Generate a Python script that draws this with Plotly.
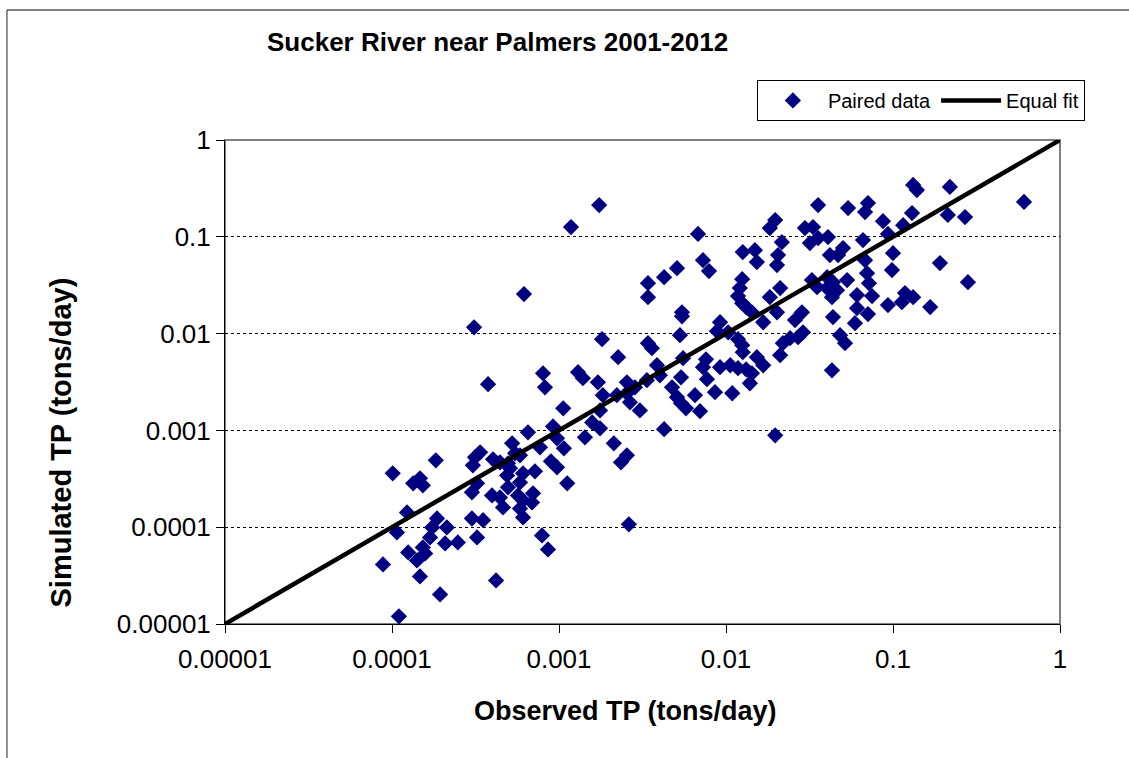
import plotly.graph_objects as go

# Observed vs simulated total phosphorus (tons/day), paired
observed_tp = [
    8.83e-5, 1.10e-4, 1.07e-4, 1.23e-4, 1.01e-4, 1.34e-4, 1.47e-4, 1.53e-4, 1.83e-4, 1.25e-4,
    1.41e-4, 1.58e-4, 1.53e-4, 1.47e-4, 1.94e-4, 1.86e-4, 1.74e-4, 2.13e-4, 1.69e-4, 2.08e-4,
    2.48e-4, 3.01e-4, 3.51e-4, 3.23e-4, 3.37e-4, 3.14e-4, 3.05e-4, 4.03e-4, 4.43e-4, 4.95e-4,
    5.09e-4, 5.24e-4, 5.46e-4, 5.84e-4, 3.23e-4, 3.01e-4, 4.89e-4, 4.95e-4, 3.97e-4, 4.43e-4,
    4.62e-4, 5.68e-4, 6.09e-4, 6.99e-4, 6.89e-4, 5.84e-4, 6.09e-4, 6.09e-4, 5.84e-4, 4.20e-4,
    7.91e-4, 8.59e-4, 1.12e-3, 6.52e-4, 9.21e-4, 9.73e-4, 1.07e-3, 1.43e-3, 1.58e-3, 1.76e-3,
    2.13e-3, 2.35e-3, 7.69e-4, 8.95e-4, 9.73e-4, 7.18e-4, 2.62e-3, 3.10e-4, 3.76e-4, 6.17e-4,
    1.74e-3, 1.18e-3, 5.09e-3, 4.26e-3, 3.41e-3, 3.41e-3, 1.81e-3, 2.26e-3, 3.41e-3, 3.60e-3,
    8.02e-4, 8.24e-4, 1.30e-3, 1.39e-3, 1.71e-3, 2.55e-3, 2.85e-3, 3.36e-3, 3.86e-3, 4.02e-3,
    4.75e-3, 1.83e-3, 2.22e-3, 2.55e-3, 2.66e-3, 3.05e-3, 1.06e-3, 1.76e-3, 4.26e-3, 2.55e-3,
    6.80e-3, 7.28e-3, 7.91e-3, 0.0126, 0.0149, 0.0153, 0.0125, 0.0121, 0.0118, 0.0125,
    0.0132, 0.0143, 5.45e-3, 5.45e-3, 5.30e-3, 9.21e-3, 8.83e-3, 0.0103, 0.0118, 0.0125,
    0.0126, 5.53e-3, 7.59e-3, 7.28e-3, 7.69e-3, 9.21e-3, 0.0106, 0.0118, 0.0132, 0.0153,
    0.0143, 0.0139, 5.38e-3, 5.09e-3, 5.38e-3, 5.76e-3, 6.52e-3, 6.99e-3, 8.59e-3, 0.0109,
    0.0356, 0.0538, 0.0197, 0.0183, 0.0297, 0.0332, 0.0318, 0.0356, 0.0408, 0.0216,
    0.0205, 0.0202, 0.0419, 0.0502, 0.0469, 0.0327, 0.0351, 0.0403, 0.0437, 0.0403,
    0.0462, 0.0431, 0.0531, 0.0211, 0.0183, 0.0202, 0.0167, 0.0285, 0.0259, 0.0437,
    0.0289, 0.0270, 0.0242, 0.0219, 0.0211, 0.0482, 0.0516, 0.0167, 0.0431, 0.0197,
    0.0708, 0.0680, 0.132, 0.139, 0.219, 0.609, 0.130, 0.213, 0.270, 0.0871,
    0.115, 0.0933, 0.0661, 0.100, 0.0986, 0.0680, 0.191, 0.281, 0.0699, 0.0718,
    0.0749, 0.118, 0.132, 0.113, 0.0933, 0.167, 0.0708, 0.0609, 0.0609, 0.0592,
]
simulated_tp = [
    4.12e-5, 1.20e-5, 8.83e-5, 1.42e-4, 3.60e-4, 2.84e-4, 3.20e-4, 2.71e-4, 4.91e-4, 5.48e-5,
    4.54e-5, 5.36e-5, 6.18e-5, 3.10e-5, 2.02e-5, 1.23e-4, 9.95e-5, 9.95e-5, 7.85e-5, 6.80e-5,
    6.97e-5, 1.23e-4, 1.18e-4, 7.85e-5, 5.94e-4, 5.27e-4, 4.36e-4, 5.02e-4, 4.68e-4, 4.57e-4,
    4.06e-4, 7.36e-4, 5.80e-4, 5.53e-4, 2.84e-4, 2.29e-4, 3.43e-4, 2.58e-4, 2.13e-4, 2.03e-4,
    1.60e-4, 2.13e-4, 1.89e-4, 2.24e-4, 1.80e-4, 1.56e-4, 1.26e-4, 3.60e-4, 2.90e-4, 2.82e-5,
    8.22e-5, 5.89e-5, 2.84e-4, 9.55e-4, 1.10e-3, 8.28e-4, 6.53e-4, 8.49e-4, 1.21e-3, 1.05e-3,
    7.36e-4, 4.68e-4, 6.68e-4, 4.79e-4, 4.15e-4, 3.78e-4, 1.07e-4, 1.16e-2, 3.00e-3, 2.56e-2,
    0.213, 0.126, 0.0474, 0.0383, 0.0332, 0.0238, 8.75e-3, 5.70e-3, 7.96e-3, 7.06e-3,
    3.89e-3, 2.79e-3, 3.99e-3, 3.46e-3, 3.14e-3, 3.14e-3, 2.79e-3, 3.30e-3, 4.71e-3, 3.71e-3,
    2.79e-3, 2.31e-3, 2.31e-3, 2.42e-3, 1.95e-3, 1.61e-3, 1.69e-3, 1.61e-3, 1.03e-3, 5.53e-4,
    0.107, 0.0574, 0.0442, 0.0695, 0.0728, 0.0548, 0.0365, 0.0295, 0.0244, 0.0206,
    0.0188, 0.0166, 0.0166, 0.0151, 9.62e-3, 0.0131, 0.0106, 0.0103, 8.75e-3, 7.59e-3,
    6.42e-3, 5.57e-3, 5.43e-3, 4.50e-3, 3.38e-3, 4.50e-3, 4.71e-3, 4.39e-3, 4.28e-3, 5.70e-3,
    3.89e-3, 3.07e-3, 3.54e-3, 2.20e-3, 1.91e-3, 1.69e-3, 2.31e-3, 1.58e-3, 2.48e-3, 2.42e-3,
    0.213, 0.198, 0.149, 0.123, 0.123, 0.126, 0.0861, 0.0970, 0.0993, 0.0881,
    0.0647, 0.0510, 0.0647, 0.0764, 0.0647, 0.0357, 0.0302, 0.0383, 0.0340, 0.0295,
    0.0281, 0.0238, 0.0357, 0.0295, 0.0238, 0.0166, 0.0131, 0.0166, 0.0138, 0.0148,
    0.0103, 9.18e-3, 8.96e-3, 7.96e-3, 5.98e-3, 9.62e-3, 7.96e-3, 4.71e-3, 4.18e-3, 8.89e-4,
    0.223, 0.180, 0.343, 0.304, 0.327, 0.229, 0.176, 0.168, 0.160, 0.145,
    0.132, 0.107, 0.0925, 0.0678, 0.0453, 0.0574, 0.0535, 0.0340, 0.0421, 0.0332,
    0.0244, 0.0262, 0.0238, 0.0211, 0.0197, 0.0188, 0.0159, 0.0250, 0.0183, 0.0128,
]

equal_fit_x = [0.00001, 1]
equal_fit_y = [0.00001, 1]

tick_values = [0.00001, 0.0001, 0.001, 0.01, 0.1, 1]
tick_labels = ["0.00001", "0.0001", "0.001", "0.01", "0.1", "1"]

FONT = "Liberation Sans, Arial, sans-serif"

fig = go.Figure()
fig.add_trace(go.Scatter(
    x=observed_tp, y=simulated_tp, mode="markers", name="Paired data",
    marker=dict(symbol="diamond", size=12.5, color="#000080", line=dict(width=0)),
))
fig.add_trace(go.Scatter(
    x=equal_fit_x, y=equal_fit_y, mode="lines", name="Equal fit",
    line=dict(color="black", width=4.5),
))

axis_common = dict(
    type="log", range=[-5, 0], tickvals=tick_values, ticktext=tick_labels,
    ticks="outside", ticklen=8, tickwidth=1, tickcolor="black",
    showline=True, linecolor="black", linewidth=1,
    tickfont=dict(family=FONT, size=26, color="black"),
    zeroline=False,
)

fig.update_xaxes(**axis_common, showgrid=False, ticklabelstandoff=4)
fig.update_yaxes(**axis_common, showgrid=True, gridcolor="black", gridwidth=1, griddash="dot")

# plot-area frame (gray top/right)
fig.add_shape(type="rect", xref="paper", yref="paper", x0=0, y0=0, x1=1, y1=1,
              line=dict(color="#808080", width=2), layer="below")
# outer chart frame (top and left edges visible)
fig.add_shape(type="line", xref="paper", yref="paper", x0=-0.2611, x1=1.1, y0=1.2686, y1=1.2686,
              line=dict(color="#808080", width=2))
fig.add_shape(type="line", xref="paper", yref="paper", x0=-0.2611, x1=-0.2611, y0=-0.30, y1=1.2686,
              line=dict(color="#202020", width=1))

fig.add_annotation(text="<b>Observed TP (tons/day)</b>", xref="paper", yref="paper",
                   x=0.480, y=-0.180, showarrow=False, xanchor="center", yanchor="middle",
                   font=dict(family=FONT, size=27, color="black"))
fig.add_annotation(text="<b>Simulated TP (tons/day)</b>", xref="paper", yref="paper",
                   x=-0.197, y=0.374, showarrow=False, xanchor="center", yanchor="middle",
                   textangle=-90, font=dict(family=FONT, size=29, color="black"))

fig.update_layout(
    width=1129, height=758,
    margin=dict(l=225, r=69, t=140, b=134),
    paper_bgcolor="white", plot_bgcolor="white",
    title=dict(text="<b>Sucker River near Palmers 2001-2012</b>", xref="container", yref="container",
               x=267 / 1129, xanchor="left", y=1 - 42 / 758, yanchor="middle",
               font=dict(family=FONT, size=26, color="black")),
    legend=dict(orientation="h", x=0.637, y=1.124, xanchor="left", yanchor="top",
                bordercolor="black", borderwidth=1, bgcolor="white", itemwidth=60,
                font=dict(family=FONT, size=20, color="black")),
    showlegend=True,
)

fig.write_html("out.html", config={"displayModeBar": False},
               post_script="document.body.style.margin='0px';")
